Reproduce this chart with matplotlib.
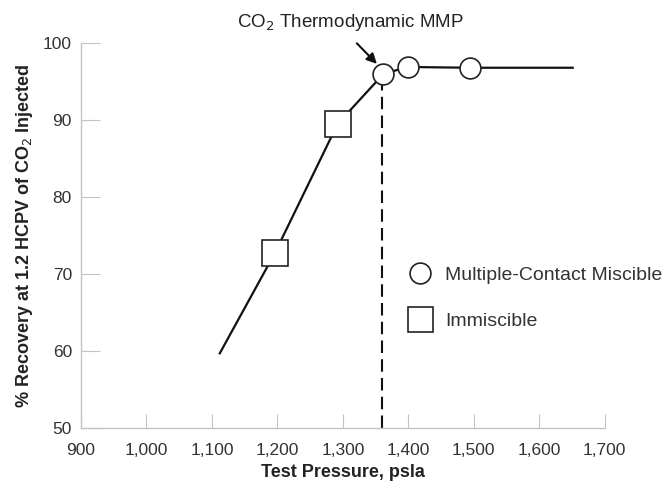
import numpy as np
import matplotlib
matplotlib.use('Agg')
import matplotlib.pyplot as plt
from matplotlib.lines import Line2D

plt.rcParams['font.family'] = ['Liberation Sans', 'DejaVu Sans']

# curve through all points
curve_p = [1112, 1196, 1292, 1362, 1399, 1494, 1651]
curve_r = [59.7, 72.7, 89.5, 96.0, 96.9, 96.8, 96.8]

# immiscible tests (squares)
imm_p = [1196, 1292]
imm_r = [72.7, 89.5]

# multiple-contact miscible tests (circles)
mcm_p = [1362, 1399, 1494]
mcm_r = [96.0, 96.9, 96.8]

mmp = 1360
xticks = [900, 1000, 1100, 1200, 1300, 1400, 1500, 1600, 1700]
yticks = [50, 60, 70, 80, 90, 100]

fig = plt.figure(figsize=(6.69, 4.86), dpi=100)
ax = fig.add_axes([0.121, 0.1193, 0.783, 0.792])

ax.plot(curve_p, curve_r, color='#111111', lw=1.6, zorder=2)
ax.plot([mmp, mmp], [50, 95.2], color='#111111', lw=1.5, ls=(0, (6, 3)), zorder=1)
ax.plot(imm_p, imm_r, ls='none', marker='s', ms=19, mfc='white', mec='#222222', mew=1.2, zorder=3)
ax.plot(mcm_p, mcm_r, ls='none', marker='o', ms=15, mfc='white', mec='#222222', mew=1.2, zorder=3)

ax.set_xlim(900, 1700)
ax.set_ylim(50, 100)
ax.set_xticks(xticks)
ax.set_xticklabels(['{:,}'.format(v) for v in xticks])
ax.set_yticks(yticks)

for s in ['top', 'right']:
    ax.spines[s].set_visible(False)
for s in ['left', 'bottom']:
    ax.spines[s].set_color('#c4c4c4')
    ax.spines[s].set_linewidth(1)
ax.tick_params(axis='x', direction='in', length=10, color='#c4c4c4', labelsize=12.5,
               labelcolor='#333333', pad=11)
ax.tick_params(axis='y', direction='in', length=14, color='#c4c4c4', labelsize=12.5,
               labelcolor='#333333', pad=6.5)

ax.set_xlabel('Test Pressure, psla', fontsize=13, fontweight='bold', labelpad=4,
              color='#222222')
ax.set_ylabel('% Recovery at 1.2 HCPV of CO$_2$ Injected', fontsize=13,
              fontweight='bold', labelpad=6, color='#222222')

ax.annotate('CO$_2$ Thermodynamic MMP', xy=(1352, 97.3), xytext=(1311, 102.7),
            ha='center', va='center', fontsize=13.5, color='#222222',
            annotation_clip=False,
            arrowprops=dict(arrowstyle='-|>', color='#111111', lw=1.5,
                            mutation_scale=15, shrinkA=0, shrinkB=0,
                            relpos=(0.53, -0.5)))

handles = [Line2D([], [], ls='none', marker='o', ms=15, mfc='white', mec='#222222', mew=1.2),
           Line2D([], [], ls='none', marker='s', ms=18, mfc='white', mec='#222222', mew=1.2)]
leg = ax.legend(handles, ['Multiple-Contact Miscible', 'Immiscible'], loc='center left',
                bbox_to_anchor=(0.595, 0.337), frameon=False, fontsize=14,
                handletextpad=0.3, labelspacing=1.45, borderaxespad=0)
for t in leg.get_texts():
    t.set_color('#333333')

fig.savefig('out.png', dpi=100)
